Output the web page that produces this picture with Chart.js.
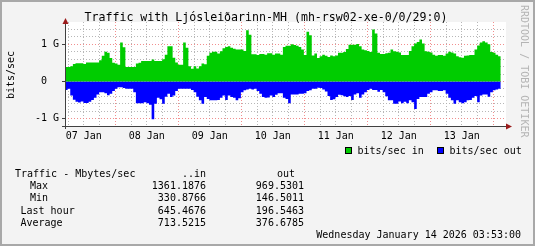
<!DOCTYPE html>
<html>
<head>
<meta charset="utf-8">
<script src="https://cdn.jsdelivr.net/npm/chart.js@4.4.1/dist/chart.umd.min.js"></script>
<style>
  html, body { margin: 0; padding: 0; background: #f3f3f3; }
  #wrap { width: 535px; height: 246px; }
</style>
</head>
<body>
<div id="wrap"><canvas id="traffic" width="535" height="246"></canvas></div>
<script>
// time axis: hours after 07 Jan 00:00, one week wide, one sample per hour
const startHour = 4.85;
const spanHours = 168;
const dayLabels = ["07 Jan", "08 Jan", "09 Jan", "10 Jan", "11 Jan", "12 Jan", "13 Jan"];

// bits/sec in, Gbit/s
const inG = [
  0.36, 0.39, 0.39, 0.41, 0.47, 0.49, 0.49, 0.49, 0.47, 0.51, 0.51, 0.51,
  0.51, 0.51, 0.57, 0.69, 0.80, 0.77, 0.63, 0.50, 0.48, 0.45, 1.05, 0.92,
  0.39, 0.39, 0.39, 0.39, 0.48, 0.50, 0.55, 0.55, 0.55, 0.55, 0.59, 0.55,
  0.55, 0.55, 0.60, 0.72, 0.95, 0.95, 0.64, 0.51, 0.45, 0.45, 1.05, 0.91,
  0.41, 0.34, 0.41, 0.35, 0.41, 0.48, 0.46, 0.69, 0.77, 0.80, 0.80, 0.75,
  0.81, 0.89, 0.93, 0.95, 0.91, 0.88, 0.86, 0.86, 0.86, 0.82, 1.38, 1.26,
  0.73, 0.73, 0.71, 0.74, 0.74, 0.72, 0.76, 0.76, 0.72, 0.75, 0.75, 0.72,
  0.93, 0.96, 0.96, 1.00, 0.98, 0.96, 0.93, 0.86, 0.71, 1.34, 1.24, 0.70,
  0.75, 0.63, 0.68, 0.72, 0.69, 0.66, 0.70, 0.68, 0.70, 0.77, 0.77, 0.79,
  0.87, 0.99, 0.99, 0.99, 1.01, 0.95, 0.86, 0.84, 0.82, 0.79, 1.40, 1.29,
  0.77, 0.74, 0.74, 0.76, 0.77, 0.86, 0.81, 0.80, 0.78, 0.71, 0.71, 0.71,
  0.82, 0.95, 1.02, 1.06, 1.13, 1.02, 0.81, 0.80, 0.78, 0.72, 0.69, 0.71,
  0.71, 0.69, 0.75, 0.80, 0.78, 0.75, 0.68, 0.65, 0.64, 0.69, 0.70, 0.71,
  0.71, 0.86, 0.97, 1.05, 1.08, 1.05, 1.00, 0.79, 0.77, 0.72, 0.68
];

// bits/sec out, Gbit/s (drawn below zero)
const outG = [
  0.20, 0.23, 0.20, 0.38, 0.49, 0.55, 0.57, 0.54, 0.58, 0.58, 0.55, 0.50,
  0.44, 0.35, 0.29, 0.29, 0.32, 0.37, 0.33, 0.26, 0.20, 0.16, 0.16, 0.18,
  0.20, 0.20, 0.20, 0.29, 0.59, 0.59, 0.59, 0.56, 0.59, 0.63, 1.02, 0.60,
  0.44, 0.48, 0.60, 0.41, 0.33, 0.42, 0.38, 0.26, 0.20, 0.20, 0.20, 0.20,
  0.20, 0.23, 0.29, 0.41, 0.51, 0.60, 0.42, 0.47, 0.51, 0.51, 0.51, 0.50,
  0.44, 0.38, 0.50, 0.38, 0.42, 0.44, 0.51, 0.45, 0.29, 0.24, 0.22, 0.20,
  0.22, 0.20, 0.26, 0.33, 0.42, 0.44, 0.43, 0.38, 0.42, 0.36, 0.32, 0.32,
  0.44, 0.47, 0.59, 0.35, 0.35, 0.35, 0.33, 0.33, 0.32, 0.26, 0.24, 0.20,
  0.20, 0.17, 0.18, 0.22, 0.27, 0.39, 0.50, 0.48, 0.42, 0.36, 0.37, 0.40,
  0.42, 0.39, 0.50, 0.35, 0.32, 0.44, 0.35, 0.29, 0.23, 0.20, 0.23, 0.23,
  0.28, 0.23, 0.29, 0.40, 0.51, 0.51, 0.60, 0.60, 0.54, 0.59, 0.55, 0.59,
  0.51, 0.56, 0.74, 0.47, 0.42, 0.42, 0.42, 0.33, 0.29, 0.24, 0.24, 0.26,
  0.26, 0.24, 0.33, 0.44, 0.51, 0.60, 0.51, 0.56, 0.59, 0.56, 0.51, 0.50,
  0.44, 0.39, 0.56, 0.38, 0.35, 0.35, 0.41, 0.29, 0.24, 0.22, 0.20
];

const yGrid = [-1.2, -1.0, -0.8, -0.6, -0.4, -0.2, 0, 0.2, 0.4, 0.6, 0.8, 1.0, 1.2, 1.4];
const yLabels = { "-1": "-1 G", "0": "0  ", "1": "1 G" };

const statNames = ["Max", "Min", "Last hour", "Average"];
const statIn = ["1361.1876", "330.8766", "645.4676", "713.5215"];
const statOut = ["969.5301", "146.5011", "196.5463", "376.6785"];
const stampText = "Wednesday January 14 2026 03:53:00";

const MONO = "'DejaVu Sans Mono', monospace";
const GREEN = "#00cc00";
const BLUE = "#0000ff";
const MAJOR = "rgba(240,130,130,0.9)";
const MINOR = "rgba(175,175,175,0.9)";

const gridHours = [];
for (let h = Math.ceil(startHour / 6) * 6; h < startHour + spanHours; h += 6) gridHours.push(h);
const noonHours = dayLabels.map((d, i) => 12 + 24 * i);

const isMajorY = v => Math.abs(Math.abs(v) - 1) < 1e-6 || Math.abs(v) < 1e-6;

const rrdFrame = {
  id: "rrdFrame",
  beforeDraw(chart) {
    const { ctx, chartArea: a } = chart;
    ctx.save();
    ctx.fillStyle = "#f3f3f3";
    ctx.fillRect(0, 0, chart.width, chart.height);
    ctx.fillStyle = "#ffffff";
    ctx.fillRect(a.left, a.top, a.right - a.left, a.bottom - a.top);
    ctx.restore();
  },
  afterDraw(chart) {
    const { ctx, chartArea: a } = chart;
    ctx.save();
    // axes
    ctx.strokeStyle = "#404040";
    ctx.lineWidth = 1;
    ctx.beginPath();
    ctx.moveTo(a.left - 3, a.bottom + 0.5);
    ctx.lineTo(a.right, a.bottom + 0.5);
    ctx.moveTo(a.left + 0.5, a.bottom + 3);
    ctx.lineTo(a.left + 0.5, a.top - 1);
    ctx.stroke();
    ctx.fillStyle = "#9b1b1b";
    ctx.beginPath();
    ctx.moveTo(a.right, a.bottom - 2.5);
    ctx.lineTo(a.right + 6, a.bottom + 0.5);
    ctx.lineTo(a.right, a.bottom + 3.5);
    ctx.fill();
    ctx.beginPath();
    ctx.moveTo(a.left - 2.5, a.top + 2);
    ctx.lineTo(a.left + 0.5, a.top - 4);
    ctx.lineTo(a.left + 3.5, a.top + 2);
    ctx.fill();

    // title
    ctx.fillStyle = "#000";
    ctx.textBaseline = "middle";
    ctx.textAlign = "center";
    ctx.font = "11.6px " + MONO;
    ctx.fillText("Traffic with Ljósleiðarinn-MH (mh-rsw02-xe-0/0/29:0)", 266, 17.5);

    // y axis title
    ctx.save();
    ctx.translate(11, 75);
    ctx.rotate(-Math.PI / 2);
    ctx.font = "10px " + MONO;
    ctx.fillText("bits/sec", 0, 0);
    ctx.restore();

    // watermark
    ctx.save();
    ctx.translate(520, 5);
    ctx.rotate(Math.PI / 2);
    ctx.textAlign = "left";
    ctx.fillStyle = "#b4b4b4";
    ctx.font = "10px " + MONO;
    ctx.fillText("RRDTOOL / TOBI OETIKER", 0, -4);
    ctx.restore();

    // legend
    ctx.font = "10px " + MONO;
    ctx.textAlign = "left";
    const legend = [
      { x: 345, color: GREEN, text: chart.data.datasets[0].label },
      { x: 437, color: BLUE, text: chart.data.datasets[1].label }
    ];
    legend.forEach(l => {
      ctx.fillStyle = l.color;
      ctx.fillRect(l.x, 147, 7, 7);
      ctx.strokeStyle = "#000";
      ctx.strokeRect(l.x + 0.5, 147.5, 6, 6);
      ctx.fillStyle = "#000";
      ctx.fillText(l.text, l.x + 12.5, 151);
    });

    // statistics table
    const rowY = [174.5, 186.5, 198.5, 211, 223];
    const nameX = [30, 30, 20.5, 20.5];
    ctx.fillText("Traffic - Mbytes/sec", 15, rowY[0]);
    ctx.textAlign = "right";
    ctx.fillText("..in", 206, rowY[0]);
    ctx.fillText("out", 295, rowY[0]);
    statNames.forEach((n, i) => {
      ctx.textAlign = "left";
      ctx.fillText(n, nameX[i], rowY[i + 1]);
      ctx.textAlign = "right";
      ctx.fillText(statIn[i], 206, rowY[i + 1]);
      ctx.fillText(statOut[i], 304, rowY[i + 1]);
    });
    ctx.fillText(stampText, 521, 235);

    // outer frame
    ctx.strokeStyle = "#a8a8a8";
    ctx.lineWidth = 2;
    ctx.strokeRect(1, 1, chart.width - 2, chart.height - 2);
    ctx.restore();
  }
};

new Chart(document.getElementById("traffic"), {
  type: "line",
  data: {
    datasets: [
      {
        label: "bits/sec in",
        data: inG.map((v, i) => ({ x: startHour + i, y: v })),
        backgroundColor: GREEN,
        borderColor: "rgba(0,0,0,0)",
        borderWidth: 0,
        fill: "origin",
        stepped: "after",
        pointRadius: 0
      },
      {
        label: "bits/sec out",
        data: outG.map((v, i) => ({ x: startHour + i, y: -v })),
        backgroundColor: BLUE,
        borderColor: "rgba(0,0,0,0)",
        borderWidth: 0,
        fill: "origin",
        stepped: "after",
        pointRadius: 0
      }
    ]
  },
  options: {
    responsive: false,
    animation: false,
    events: [],
    layout: { padding: { left: 0, top: 22, right: 29, bottom: 0 } },
    plugins: { legend: { display: false }, title: { display: false }, tooltip: { enabled: false } },
    scales: {
      x: {
        type: "linear",
        min: startHour,
        max: startHour + spanHours,
        afterBuildTicks: s => { s.ticks = gridHours.map(v => ({ value: v })); },
        afterFit: s => { s.height = 0; },
        ticks: { display: false },
        grid: {
          drawTicks: false,
          color: c => (c.tick && c.tick.value % 24 === 0 ? MAJOR : MINOR)
        },
        border: { display: false, dash: [1, 2] }
      },
      x2: {
        type: "linear",
        position: "bottom",
        min: startHour,
        max: startHour + spanHours,
        afterBuildTicks: s => { s.ticks = noonHours.map(v => ({ value: v })); },
        afterFit: s => { s.height = 120; },
        grid: { display: false },
        border: { display: false },
        ticks: {
          autoSkip: false,
          maxRotation: 0,
          padding: -4,
          color: "#000",
          font: { family: MONO, size: 10 },
          callback: v => dayLabels[Math.round((v - 12) / 24)]
        }
      },
      y: {
        min: -1.2,
        max: 1.6,
        afterBuildTicks: s => { s.ticks = yGrid.map(v => ({ value: v })); },
        afterFit: s => { s.width = 65; },
        ticks: {
          autoSkip: false,
          padding: 3,
          color: "#000",
          font: { family: MONO, size: 10 },
          callback: v => yLabels[String(Math.round(v * 10) / 10)] || ""
        },
        grid: {
          drawTicks: true,
          tickLength: 3,
          color: c => (c.tick && isMajorY(c.tick.value) ? MAJOR : MINOR),
          tickColor: c => (c.tick && isMajorY(c.tick.value) ? "#404040" : "rgba(0,0,0,0)")
        },
        border: { display: false, dash: [1, 2] }
      }
    }
  },
  plugins: [rrdFrame]
});
</script>
</body>
</html>
